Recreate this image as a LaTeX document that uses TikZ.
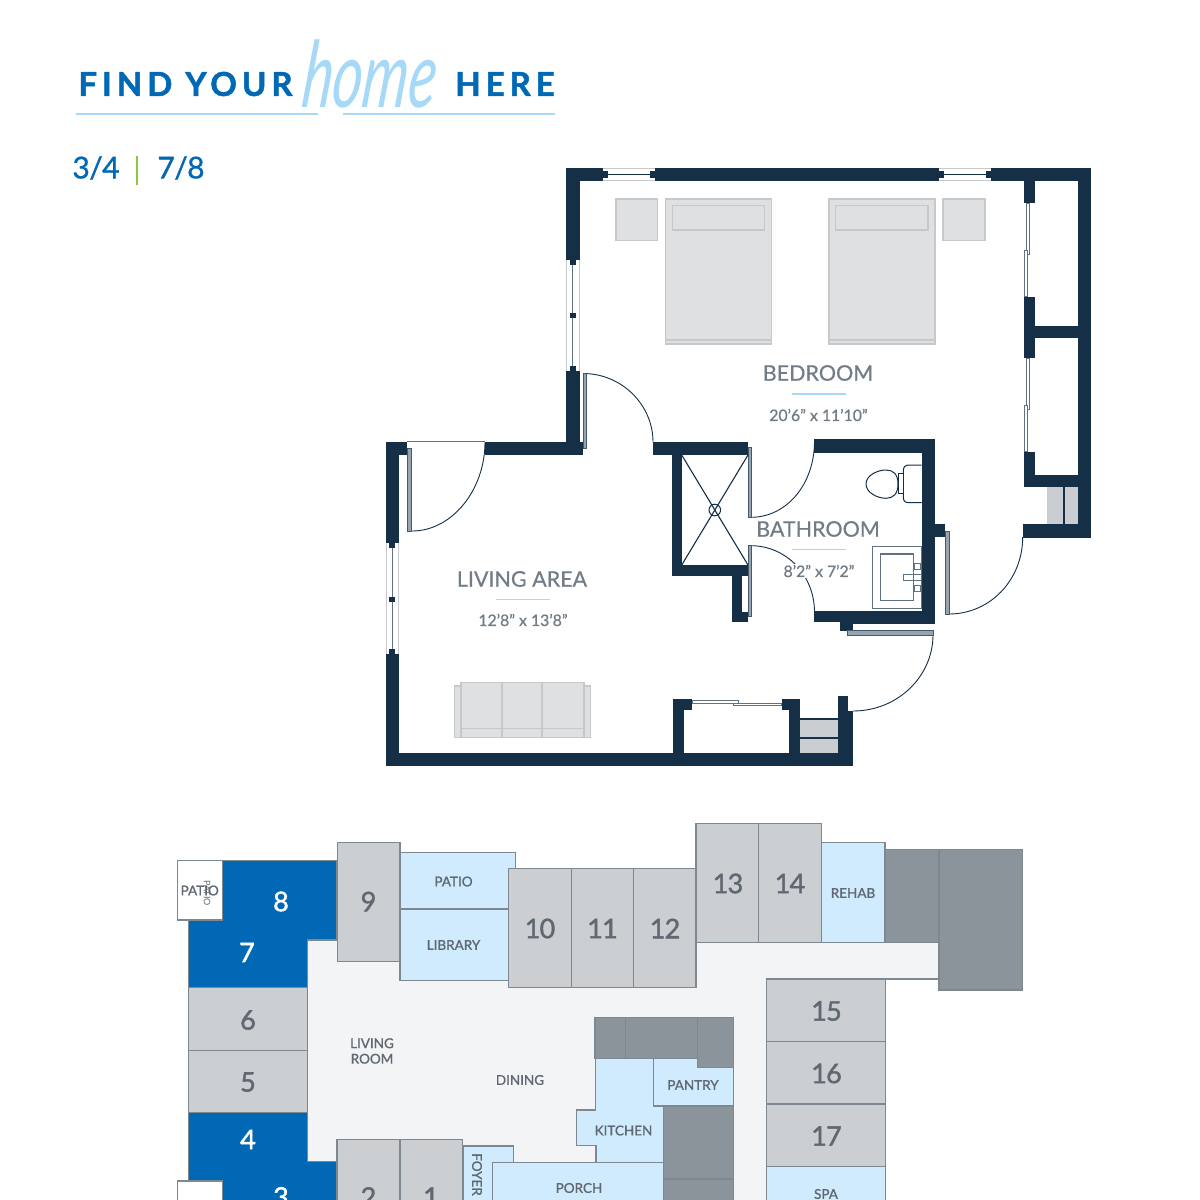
\documentclass[tikz,border=0pt]{standalone}
\usepackage{fontspec}
\setmainfont{Lato}
\newfontfamily\titlefont[LetterSpace=15,FakeBold=1.5]{Lato Bold}
\newfontfamily\numfont[LetterSpace=-2,FakeBold=1]{Lato}
\newfontfamily\labelfont[FakeBold=0.4]{Lato}
\newfontfamily\sizefont[FakeBold=0.7]{Lato}
\newfontfamily\keynumfont[LetterSpace=-3,FakeBold=1.6]{Lato}
\newfontfamily\keyfont[FakeBold=1.2]{Lato}
\definecolor{navy}{HTML}{152F47}
\definecolor{fitline}{HTML}{5F7283}
\definecolor{skyline}{HTML}{A6D8F7}
\definecolor{mainblue}{HTML}{0068B5}
\definecolor{leafgreen}{HTML}{8DC63F}
\definecolor{textgrey}{HTML}{717C86}
\definecolor{furnfill}{HTML}{DFE0E2}
\definecolor{furnline}{HTML}{C6C8CB}
\definecolor{shelfgrey}{HTML}{C9CDD1}
\definecolor{keyline}{HTML}{7E8891}
\definecolor{unitgrey}{HTML}{CCCFD2}
\definecolor{commonblue}{HTML}{CFEBFD}
\definecolor{servicegrey}{HTML}{8C949B}
\definecolor{hallgrey}{HTML}{F3F4F6}
\tikzset{
  wall/.style={fill=navy,draw=none},
  leaf/.style={fill=fitline!65,draw=navy!80,line width=0.8pt},
  slider/.style={fill=white,draw=fitline,line width=0.9pt},
  swing/.style={draw=navy,line width=0.9pt},
  pane/.style={draw=furnline,line width=0.8pt},
  furn/.style={fill=furnfill,draw=furnline,line width=1.3pt},
  fixture/.style={fill=white,draw=navy,line width=1pt},
  skyrule/.style={draw=skyline,line width=1.9pt},
  roomname/.style={text=textgrey,font=\labelfont\fontsize{21.5}{21.5}\selectfont,inner sep=0pt},
  roomsize/.style={text=textgrey,font=\sizefont\fontsize{15.8}{15.8}\selectfont,inner sep=1pt},
  key/.style={draw=keyline,line width=1.4pt},
  unit/.style={key,fill=unitgrey},
  mine/.style={key,fill=mainblue},
  common/.style={key,fill=commonblue},
  service/.style={key,fill=servicegrey},
  unitno/.style={text=textgrey!85!black,font=\keynumfont\fontsize{27}{27}\selectfont,inner sep=0pt},
  mineno/.style={text=white,font=\keynumfont\fontsize{27}{27}\selectfont,inner sep=0pt},
  keyname/.style={text=textgrey!85!black,font=\keyfont\fontsize{13.5}{15.5}\selectfont,inner sep=0pt,align=center}
}
\begin{document}
\begin{tikzpicture}[x=1pt,y=-1pt]
  \clip (0,0) rectangle (1200,1200);
  \fill[white] (0,0) rectangle (1200,1200);

  % heading
  \node (find) at (185.5,84) [text=mainblue,inner sep=0pt,font=\titlefont\fontsize{33}{33}\selectfont] {FIND YOUR};
  \node (here) at (505,84) [text=mainblue,inner sep=0pt,font=\titlefont\fontsize{33}{33}\selectfont] {HERE};
  \node (home) at (371,74) [text=skyline,inner sep=0pt,xscale=0.63,xslant=0.18,font=\itshape\fontsize{92}{92}\selectfont] {home};
  \draw[skyrule] (76,113.7) -- (318,113.7);
  \draw[skyrule] (343,113.7) -- (555,113.7);
  \node (unitsA) at (96,168) [text=mainblue,inner sep=0pt,font=\numfont\fontsize{30}{30}\selectfont] {3/4};
  \node (unitsB) at (181,168) [text=mainblue,inner sep=0pt,font=\numfont\fontsize{30}{30}\selectfont] {7/8};
  \draw[leafgreen,line width=1.6pt] (137,156) -- (137,185);

  % furniture
  \filldraw[furn] (616,199) rectangle (657.7,240.7);
  \filldraw[furn] (943,199) rectangle (985,240.7);
  \filldraw[furn] (665.7,199) rectangle (771.3,344);
  \draw[furnline,line width=1.2pt] (665.7,340) -- (771.3,340);
  \draw[furnline,line width=1.5pt] (672.3,205.7) rectangle (764.7,230);
  \filldraw[furn] (829,199) rectangle (935,344);
  \draw[furnline,line width=1.2pt] (829,340) -- (935,340);
  \draw[furnline,line width=1.5pt] (835.7,205.7) rectangle (928,230);
  \filldraw[furn] (454.3,686) rectangle (590.7,737.3);
  \filldraw[furn] (461,682.7) rectangle (584,737.3);
  \draw[furnline,line width=1.2pt] (461,728.3) -- (584,728.3);
  \draw[furnline,line width=1.2pt] (502,682.7) -- (502,737.3);
  \draw[furnline,line width=1.2pt] (542,682.7) -- (542,737.3);

  % door swings
  \draw[swing] (412,531) .. controls (452,531) and (485,490) .. (485,442);
  \draw[fitline,line width=0.8pt] (407,441.7) -- (485,441.7);
  \draw[swing] (583,373.5) .. controls (622,373.5) and (653,405) .. (653,442);
  \draw[swing] (751,517.3) .. controls (786,517.3) and (814.5,485) .. (814.5,441);
  \draw[swing] (751,545.7) .. controls (786,545.7) and (814.5,575) .. (814.5,612);
  \draw[swing] (933,635) .. controls (933,676) and (898,711) .. (853,711);
  \draw[swing] (949,614) .. controls (990,614) and (1022.7,580) .. (1022.7,537);

  % outer walls
  \filldraw[wall] (566,168) rectangle (602.7,181);
  \filldraw[wall] (655,168) rectangle (939,181);
  \filldraw[wall] (990.7,168) rectangle (1090.7,181);
  \filldraw[wall] (566,168) rectangle (579.5,260);
  \filldraw[wall] (566,370.7) rectangle (579.5,455);
  \filldraw[wall] (485,441.7) rectangle (582.7,455);
  \filldraw[wall] (385.7,441.7) rectangle (407,455);
  \filldraw[wall] (385.7,441.7) rectangle (399,543);
  \filldraw[wall] (385.7,654) rectangle (399,766);
  \filldraw[wall] (385.7,752.7) rectangle (853.3,766);
  \filldraw[wall] (1077.7,168) rectangle (1090.7,537.7);

  % closets
  \filldraw[wall] (1024,181) rectangle (1035,203.3);
  \filldraw[wall] (1024,296.7) rectangle (1035,358.3);
  \filldraw[wall] (1024,326) rectangle (1077.7,337.7);
  \filldraw[wall] (1024,451.7) rectangle (1035,486.7);
  \filldraw[wall] (1024,475) rectangle (1077.7,486.7);
  \filldraw[wall] (1022.7,524.3) rectangle (1090.7,537.7);
  \fill[shelfgrey] (1046.7,486.7) rectangle (1077.7,524.3);
  \draw[navy,line width=1.2pt] (1064,486.7) -- (1064,524.3);
  \filldraw[wall] (673.3,698.7) rectangle (684.3,752.7);
  \filldraw[wall] (673.3,698.7) rectangle (692.3,710);
  \filldraw[wall] (781.7,698.7) rectangle (800,710);
  \filldraw[wall] (789,698.7) rectangle (800,752.7);
  \filldraw[wall] (837.7,695.7) rectangle (848,711);
  \filldraw[wall] (837.7,711) rectangle (853.3,766);
  \fill[shelfgrey] (800,719) rectangle (837.7,752.7);
  \draw[navy,line width=1.2pt] (800,719) -- (837.7,719);
  \draw[navy,line width=1.2pt] (800,738) -- (837.7,738);

  % bathroom and shower
  \filldraw[wall] (652.7,441.7) rectangle (748,455);
  \filldraw[wall] (671.7,455) rectangle (681.7,575.7);
  \filldraw[wall] (671.7,565) rectangle (748.3,575.7);
  \filldraw[wall] (732.3,575.7) rectangle (742.3,621.7);
  \filldraw[wall] (732.3,611.7) rectangle (748,621.7);
  \filldraw[wall] (814.3,439.3) rectangle (935,453.3);
  \filldraw[wall] (921.7,439.3) rectangle (935,624.3);
  \filldraw[wall] (814.3,611) rectangle (935,621.7);
  \filldraw[wall] (840,621) rectangle (935,624.3);
  \filldraw[wall] (840,621) rectangle (853,631);
  \filldraw[wall] (935,524.3) rectangle (945,536.7);

  % door leaves
  \filldraw[leaf] (407.5,448.3) rectangle (411.7,531);
  \filldraw[leaf] (583,373.5) rectangle (586,448);
  \filldraw[leaf] (748.3,447) rectangle (751.5,517.3);
  \filldraw[leaf] (748.3,545.7) rectangle (751.5,616);
  \filldraw[leaf] (847.3,630.7) rectangle (933,635);
  \filldraw[leaf] (945,531.7) rectangle (949,614);
  \filldraw[slider] (692,700.7) rectangle (738,703);
  \filldraw[slider] (733,703) rectangle (781.7,705.5);
  \filldraw[slider] (1026.7,203.3) rectangle (1029.3,254.3);
  \filldraw[slider] (1024.3,250) rectangle (1027,296.7);
  \filldraw[slider] (1026.7,358.3) rectangle (1029.3,409.3);
  \filldraw[slider] (1024.3,405) rectangle (1027,451.7);

  % windows
  \draw[pane] (602.7,168.5) -- (655,168.5);
  \draw[pane] (602.7,180.7) -- (655,180.7);
  \draw[navy,line width=0.9pt] (603,174.5) -- (655,174.5);
  \filldraw[wall] (602.7,171.3) rectangle (607.7,177.7);
  \filldraw[wall] (650,171.3) rectangle (655,177.7);
  \draw[pane] (939,168.5) -- (990.7,168.5);
  \draw[pane] (939,180.7) -- (990.7,180.7);
  \draw[navy,line width=0.9pt] (939,174.5) -- (990.7,174.5);
  \filldraw[wall] (939,171.3) rectangle (944,177.7);
  \filldraw[wall] (985.7,171.3) rectangle (990.7,177.7);
  \draw[pane] (566.3,260) -- (566.3,370.7);
  \draw[pane] (579.2,260) -- (579.2,370.7);
  \draw[fitline,line width=1.2pt] (572.8,260) -- (572.8,370.7);
  \filldraw[wall] (569.7,260) rectangle (575.9,265);
  \filldraw[wall] (569.7,313) rectangle (575.9,318);
  \filldraw[wall] (569.7,365.7) rectangle (575.9,370.7);
  \draw[pane] (386,543) -- (386,654);
  \draw[pane] (398.7,543) -- (398.7,654);
  \draw[fitline,line width=1.2pt] (392.3,543) -- (392.3,654);
  \filldraw[wall] (389.2,543) rectangle (395.4,548);
  \filldraw[wall] (389.2,596.5) rectangle (395.4,601.5);
  \filldraw[wall] (389.2,649) rectangle (395.4,654);

  % shower, toilet and vanity
  \coordinate (SA) at (681.7,455);
  \coordinate (SB) at (748,455);
  \coordinate (SC) at (748,565);
  \coordinate (SD) at (681.7,565);
  \draw[navy,line width=1.1pt] (SA) -- (SC);
  \draw[navy,line width=1.1pt] (SB) -- (SD);
  \draw[navy,line width=1pt] (714.8,510) circle (5.8);
  \filldraw[fixture] (921.7,465) -- (909,465) .. controls (905,465) and (903.3,467) .. (903.3,471) -- (903.3,497) .. controls (903.3,501) and (905,502.7) .. (909,502.7) -- (921.7,502.7);
  \filldraw[fixture] (898,473) rectangle (903.3,493);
  \filldraw[fixture] (866,484) .. controls (866,475) and (878,470) .. (886,470) .. controls (893,470) and (898,474) .. (898,484) .. controls (898,494) and (893,498.3) .. (886,498.3) .. controls (878,498.3) and (866,493) .. (866,484) -- cycle;
  \draw[fitline,line width=1pt] (872.3,546) rectangle (921.7,608.3);
  \draw[fitline,line width=1.2pt] (880.7,554) rectangle (913.3,600.7);
  \draw[fitline,line width=1pt] (903.3,574) rectangle (921,580.7);
  \draw[fitline,line width=1pt] (914.3,563.3) rectangle (920,569);
  \draw[fitline,line width=1pt] (914.3,585.7) rectangle (920,591);

  % room labels
  \node (bedname) at (818,373) [roomname] {BEDROOM};
  \draw[skyrule] (792,394) -- (846,394);
  \node (bedsize) at (818.5,415) [roomsize] {20’6” x 11’10”};
  \node (bathname) at (818,529) [roomname] {BATHROOM};
  \draw[skyrule] (792,549.5) -- (846,549.5);
  \node (bathsize) at (819,571) [roomsize,fill=white] {8’2” x 7’2”};
  \node (livingname) at (522,579) [roomname] {LIVING AREA};
  \draw[skyrule] (496,599.5) -- (550,599.5);
  \node (livingsize) at (523,620) [roomsize] {12’8” x 13’8”};

  % key plan: hall first, rooms on top
  \fill[hallgrey] (307.3,940) -- (696,940) -- (939,942.3) -- (939,979) -- (766.7,979) -- (766.7,1240) -- (337,1240) -- (337,1161.7) -- (307.3,1161.7) -- cycle;
  \draw[key] (939,979) -- (766.7,979);
  \filldraw[mine] (188.3,860.7) -- (337,860.7) -- (337,940) -- (307.3,940) -- (307.3,987.7) -- (188.3,987.7) -- cycle;
  \filldraw[mine] (188.3,1112.7) -- (307.3,1112.7) -- (307.3,1161.7) -- (337,1161.7) -- (337,1240) -- (188.3,1240) -- cycle;
  \filldraw[key,fill=white] (177.3,860.7) rectangle (222.7,920);
  \filldraw[key,fill=white] (177.3,1181) rectangle (222.7,1240);
  \filldraw[unit] (188.3,987.7) rectangle (307.3,1050.3);
  \filldraw[unit] (188.3,1050.3) rectangle (307.3,1112.7);
  \filldraw[unit] (337.3,842.3) rectangle (400,961.7);
  \filldraw[common] (400,852.7) rectangle (515.7,909);
  \filldraw[common] (400,909) rectangle (508.3,980.7);
  \filldraw[unit] (508.3,868.3) rectangle (571.3,987.7);
  \filldraw[unit] (571.3,868.3) rectangle (633.3,987.7);
  \filldraw[unit] (633.3,868.3) rectangle (696,987.7);
  \filldraw[unit] (696,823.3) rectangle (758.3,942.3);
  \filldraw[unit] (758.3,823.3) rectangle (821.7,942.3);
  \filldraw[common] (821.7,842.7) rectangle (885,942.3);
  \filldraw[service] (885,849.3) rectangle (939,942.3);
  \filldraw[service] (939,849.3) rectangle (1022.7,990);
  \filldraw[unit] (766.7,979) rectangle (885.7,1041.7);
  \filldraw[unit] (766.7,1041.7) rectangle (885.7,1104);
  \filldraw[unit] (766.7,1104) rectangle (885.7,1166.7);
  \filldraw[common] (766.7,1166.7) rectangle (885.7,1240);
  \filldraw[service] (595,1017.7) rectangle (625.7,1058.3);
  \filldraw[service] (625.7,1017.7) rectangle (697.3,1058.3);
  \filldraw[common] (595.7,1058.3) -- (653.3,1058.3) -- (653.3,1106) -- (663.3,1106) -- (663.3,1162.3) -- (596,1162.3) -- (596,1145.7) -- (576.7,1145.7) -- (576.7,1110) -- (595.7,1110) -- cycle;
  \filldraw[common] (653.3,1058.3) rectangle (733.3,1106);
  \filldraw[service] (697.3,1017.7) -- (733.3,1017.7) -- (733.3,1067.7) -- (697.3,1067.7) -- cycle;
  \filldraw[service] (663.3,1106) rectangle (733.3,1179);
  \filldraw[service] (663.3,1179) rectangle (733.3,1240);
  \filldraw[common] (463.3,1146) rectangle (513.3,1240);
  \filldraw[common] (492.7,1162.3) rectangle (663.3,1240);
  \filldraw[unit] (337,1139.3) rectangle (400,1240);
  \filldraw[unit] (400,1139.3) rectangle (462.7,1240);

  % key plan labels
  \node (no1) at (431,1197) [unitno] {1};
  \node (no2) at (368.5,1197) [unitno] {2};
  \node (no3) at (281,1197) [mineno] {3};
  \node (no4) at (248,1139.5) [mineno] {4};
  \node (no5) at (248,1082) [unitno] {5};
  \node (no6) at (248,1020) [unitno] {6};
  \node (no7) at (247,952.5) [mineno] {7};
  \node (no8) at (281,901.5) [mineno] {8};
  \node (no9) at (368.5,901.5) [unitno] {9};
  \node (no10) at (540,928.5) [unitno] {10};
  \node (no11) at (602.5,928.5) [unitno] {11};
  \node (no12) at (665,928.5) [unitno] {12};
  \node (no13) at (728,883.5) [unitno] {13};
  \node (no14) at (790,883.5) [unitno] {14};
  \node (no15) at (826.5,1011) [unitno] {15};
  \node (no16) at (826.5,1073.5) [unitno] {16};
  \node (no17) at (826.5,1136) [unitno] {17};
  \node (patioA) at (199.7,890.5) [keyname] {PATIO};
  \node (patioAr) at (207,893) [keyname,rotate=-90,font=\fontsize{9}{9}\selectfont] {PATIO};
  \node (patioB) at (453.5,881.5) [keyname] {PATIO};
  \node (library) at (453.5,945) [keyname] {LIBRARY};
  \node (rehab) at (853,893) [keyname] {REHAB};
  \node (livingroom) at (372,1051) [keyname] {LIVING\\ROOM};
  \node (dining) at (520,1080) [keyname] {DINING};
  \node (pantry) at (693,1085) [keyname] {PANTRY};
  \node (kitchen) at (623.5,1130.5) [keyname] {KITCHEN};
  \node (porch) at (579,1188) [keyname] {PORCH};
  \node (foyer) at (477,1174.5) [keyname,rotate=-90] {FOYER};
  \node (spa) at (826,1194) [keyname] {SPA};
\end{tikzpicture}
\end{document}
